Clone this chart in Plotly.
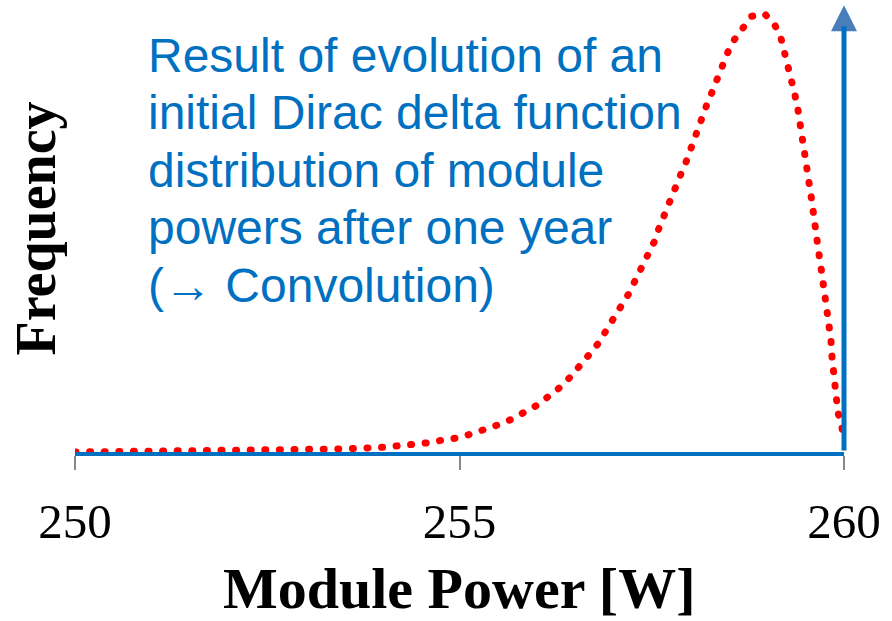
import plotly.graph_objects as go

# module power [W] and relative frequency
power = [250.0, 251.0, 252.0, 253.0, 253.5, 254.02, 254.21, 254.40, 254.59, 254.77,
         254.97, 255.15, 255.33, 255.50, 255.68, 255.84, 256.01, 256.15, 256.31, 256.44,
         256.57, 256.68, 256.80, 256.90, 257.01, 257.11, 257.20, 257.28, 257.37, 257.45,
         257.53, 257.59, 257.67, 257.74, 257.82, 257.88, 257.95, 258.01, 258.08, 258.14,
         258.21, 258.28, 258.35, 258.41, 258.49, 258.58, 258.69, 258.80, 258.97, 259.10,
         259.18, 259.23, 259.28, 259.32, 259.36, 259.40, 259.43, 259.47, 259.49, 259.52,
         259.54, 259.57, 259.60, 259.62, 259.65, 259.67, 259.70, 259.73, 259.75, 259.78,
         259.80, 259.83, 259.84, 259.86, 259.87, 259.90, 259.92, 259.97, 260.0]
freq = [0.000, 0.001, 0.002, 0.004, 0.007, 0.011, 0.014, 0.018, 0.021, 0.027,
        0.032, 0.041, 0.050, 0.062, 0.075, 0.091, 0.107, 0.126, 0.148, 0.171,
        0.196, 0.221, 0.247, 0.274, 0.304, 0.331, 0.361, 0.390, 0.420, 0.450,
        0.479, 0.509, 0.541, 0.573, 0.603, 0.635, 0.664, 0.696, 0.728, 0.760,
        0.790, 0.820, 0.852, 0.881, 0.913, 0.943, 0.970, 0.995, 1.000, 0.975,
        0.945, 0.913, 0.881, 0.849, 0.817, 0.783, 0.751, 0.719, 0.685, 0.653,
        0.621, 0.587, 0.555, 0.521, 0.489, 0.457, 0.422, 0.388, 0.356, 0.322,
        0.290, 0.256, 0.224, 0.192, 0.158, 0.126, 0.091, 0.059, 0.027]

# initial Dirac delta at 260 W
delta_x = 260
delta_top = 1.02
head_base = 0.972

x_ticks = [250, 255, 260]
note_lines = ["Result of evolution of an",
              "initial Dirac delta function",
              "distribution of module",
              "powers after one year",
              "(\u2192 Convolution)"]

blue = "#0070C0"

fig = go.Figure()
fig.add_trace(go.Scatter(x=power, y=freq, mode="lines",
                         line=dict(color="#FF0000", width=7, dash="1px,13.6px"),
                         hoverinfo="skip", showlegend=False))

# vertical arrow = delta function: lighter head, then the shaft drawn over its stem
fig.add_annotation(x=delta_x, y=delta_top, ax=delta_x, ay=0.9,
                   xref="x", yref="y", axref="x", ayref="y",
                   text="", showarrow=True, arrowhead=2, arrowsize=1.3,
                   arrowwidth=4, arrowcolor="#4A7EBB")
fig.add_annotation(x=delta_x, y=head_base, ax=delta_x, ay=0,
                   xref="x", yref="y", axref="x", ayref="y",
                   text="", showarrow=True, arrowhead=0,
                   arrowwidth=5, arrowcolor=blue)

for i, line in enumerate(note_lines):
    fig.add_annotation(text=line, xref="paper", yref="paper",
                       x=(146 - 75) / 769, xanchor="left",
                       y=1 - (55 - 5 + i * 57.5) / 447, yanchor="middle",
                       showarrow=False,
                       font=dict(family="Liberation Sans, Arial", size=48, color=blue))

# x axis title
fig.add_annotation(text="<b>Module Power [W]</b>", xref="paper", yref="paper",
                   x=0.5, y=(452 - 588) / 447, yanchor="middle",
                   showarrow=False, font=dict(size=58))

fig.update_layout(
    width=892, height=621,
    margin=dict(l=75, r=48, t=5, b=169),
    plot_bgcolor="white", paper_bgcolor="white",
    font=dict(family="Liberation Serif, Times New Roman", color="black"),
)
fig.update_xaxes(range=[250, 260], tickvals=x_ticks, ticks="outside", ticklen=14,
                 tickwidth=2, tickcolor="#888888", showgrid=False, zeroline=False,
                 showline=True, linecolor=blue, linewidth=4,
                 tickfont=dict(size=49), ticklabelstandoff=9,
                 automargin=False)
fig.update_yaxes(range=[0, 447 / 438], showticklabels=False, showgrid=False,
                 zeroline=False, showline=False, ticks="",
                 title=dict(text="<b>Frequency</b>", font=dict(size=56), standoff=0),
                 automargin=False)

# no page margin, and round dot caps like the original dotted line
post = """
document.body.style.margin='0';
document.querySelectorAll('.js-line').forEach(function(e){
  e.style.strokeLinecap='round';
});
"""
fig.write_html("out.html", post_script=post, config={"displayModeBar": False})
